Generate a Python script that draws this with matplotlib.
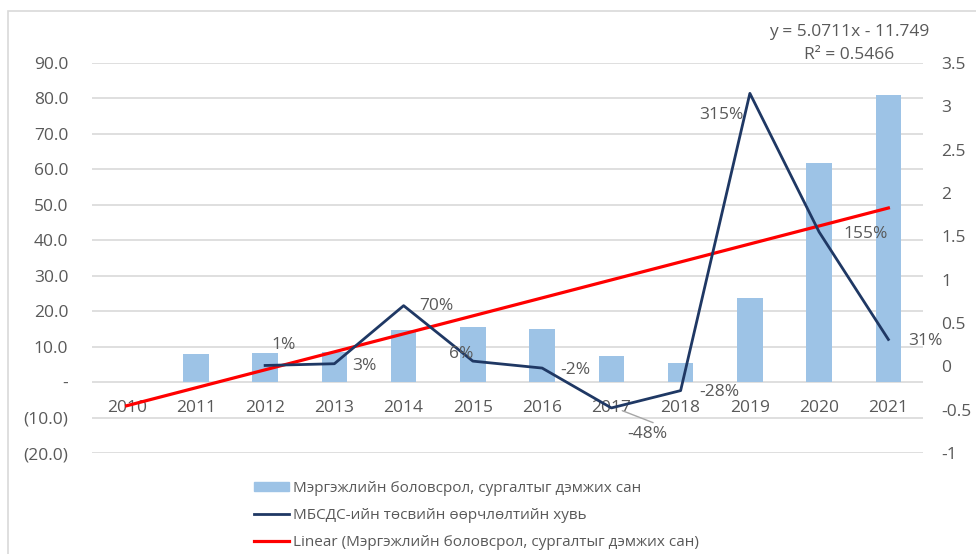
import matplotlib.pyplot as plt
import numpy as np
from matplotlib.patches import Rectangle, Patch
from matplotlib.lines import Line2D

plt.rcParams['font.family'] = ['Open Sans', 'DejaVu Sans']

years = [2010, 2011, 2012, 2013, 2014, 2015, 2016, 2017, 2018, 2019, 2020, 2021]
fund = [0.0, 8.0, 8.1, 8.4, 14.6, 15.5, 15.0, 7.5, 5.3, 23.8, 61.7, 80.9]
change = [np.nan, np.nan, 0.01, 0.03, 0.70, 0.06, -0.02, -0.48, -0.28, 3.15, 1.55, 0.31]
trend_slope = 5.0711
trend_intercept = -11.749
trend_r2 = 0.5466

bar_label = "Мэргэжлийн боловсрол, сургалтыг дэмжих сан"
line_label = "МБСДС-ийн төсвийн өөрчлөлтийн хувь"
trend_label = "Linear (Мэргэжлийн боловсрол, сургалтыг дэмжих сан)"

# pixel offsets of the percentage labels from their points
label_offsets = {2: (18, 20), 3: (30, -2), 4: (33, 0), 5: (-12, 7), 6: (33, -2),
                 7: (36, -26), 8: (39, -1), 9: (-28, -22), 10: (46, -2), 11: (37, -2)}

GRAY = "#595959"
W, H = 976, 554
fig = plt.figure(figsize=(W / 100, H / 100), dpi=100)
fig.patches.append(Rectangle((8 / W, -0.1), 1.2, 1 - 11 / H + 0.1, transform=fig.transFigure,
                             fill=False, edgecolor="#d9d9d9", lw=1.2))

ax = fig.add_axes([92 / W, 1 - 453 / H, 831 / W, 390 / H])
x = np.arange(len(years))
ax.bar(x, fund, width=0.37, color="#9DC3E6", zorder=2)
trend = trend_slope * (x + 1) + trend_intercept
ax.plot(x, trend, color="#FF0000", lw=2.3, zorder=4)

ax.set_xlim(-0.5, len(years) - 0.5)
ax.set_ylim(-20, 90)
ax.set_yticks(np.arange(-20, 91, 10))

def lfmt(v):
    if v == 0:
        return "-"
    if v < 0:
        return f"({abs(v):.1f})"
    return f"{v:.1f}"

ax.set_yticklabels([lfmt(v) for v in np.arange(-20, 91, 10)])
ax.grid(axis="y", color="#d9d9d9", lw=1.2, zorder=0)
ax.tick_params(axis="y", length=0, pad=17, labelsize=12.5, labelcolor=GRAY)
ax.spines["bottom"].set_position(("data", 0))
for s in ax.spines.values():
    s.set_visible(False)
ax.set_xticks(x)
ax.set_xticklabels([str(y) for y in years])
ax.tick_params(axis="x", length=0, pad=13, labelsize=12.5, labelcolor=GRAY)

ax2 = ax.twinx()
ax2.plot(x, change, color="#1F3864", lw=2, zorder=5)
ax2.set_ylim(-1, 3.5)
ax2.set_yticks(np.arange(-1, 3.51, 0.5))
ax2.set_yticklabels([f"{v:g}" for v in np.arange(-1, 3.51, 0.5)])
ax2.tick_params(axis="y", length=0, pad=13, labelsize=12.5, labelcolor=GRAY)
for s in ax2.spines.values():
    s.set_visible(False)

for i, (dx, dy) in label_offsets.items():
    ax2.annotate(f"{change[i] * 100:.0f}%", (x[i], change[i]), xytext=(dx, dy),
                 textcoords="offset pixels", ha="center", va="center",
                 fontsize=12.5, color=GRAY, zorder=6)
# leader line for -48%
ax2.annotate("", (x[7] + 0.12, change[7] - 0.02), xytext=(36, -14), textcoords="offset pixels",
             arrowprops=dict(arrowstyle="-", color="#a6a6a6", lw=1))

fig.text(849 / W, 1 - 32 / H, f"y = {trend_slope}x - {abs(trend_intercept)}",
         ha="center", va="center", fontsize=12.5, color=GRAY)
fig.text(849 / W, 1 - 55 / H, f"R² = {trend_r2}", ha="center", va="center",
         fontsize=12.5, color=GRAY)

handles = [Patch(color="#9DC3E6"), Line2D([], [], color="#1F3864", lw=2),
           Line2D([], [], color="#FF0000", lw=2.3)]
fig.legend(handles, [bar_label, line_label, trend_label], loc="upper left",
           bbox_to_anchor=(246 / W, 1 - 473 / H), frameon=False, fontsize=11,
           labelcolor=GRAY, handlelength=2.3, handleheight=0.5, handletextpad=0.3,
           labelspacing=0.8, borderpad=0)

fig.savefig("out.png", dpi=100)
